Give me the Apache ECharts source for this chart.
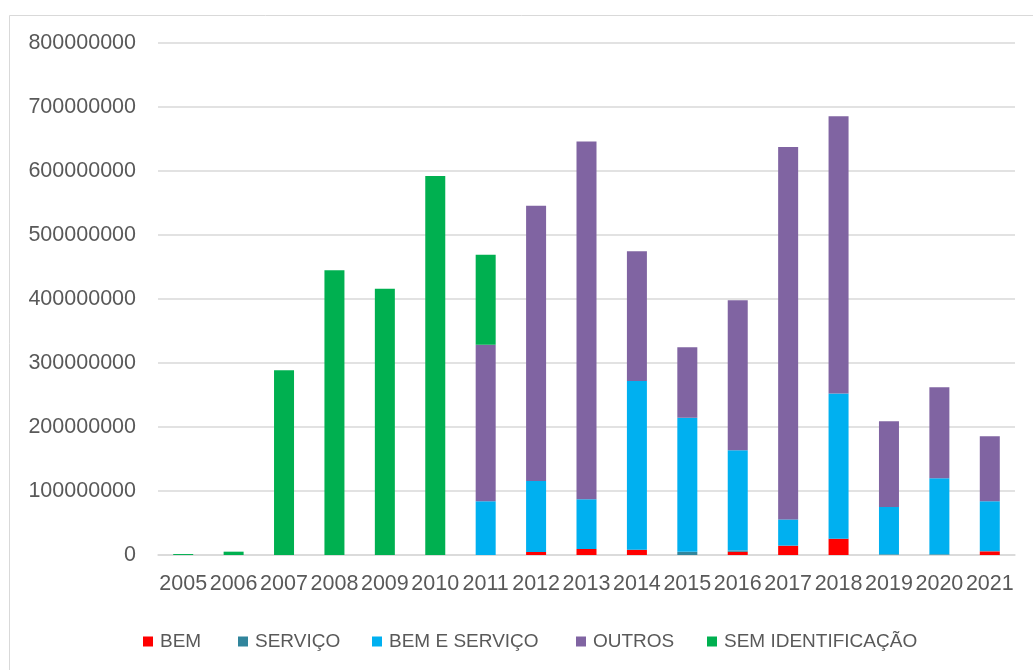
<!DOCTYPE html>
<html>
<head>
<meta charset="utf-8">
<script src="https://cdn.jsdelivr.net/npm/echarts@6/dist/echarts.min.js"></script>
<style>
html,body{margin:0;padding:0;background:#fff;}
#c{width:1033px;height:670px;}
</style>
</head>
<body>
<div id="c"></div>
<script>
const categories = ['2005','2006','2007','2008','2009','2010','2011','2012','2013','2014','2015','2016','2017','2018','2019','2020','2021'];
const bem = [0,0,0,0,0,0,0,4700000,9400000,8300000,0,5000000,14600000,25500000,0,0,5700000];
const servico = [0,0,0,0,0,0,0,0,0,0,5000000,2000000,0,0,1000000,1000000,0];
const bemEServico = [0,0,0,0,0,0,84000000,111000000,77600000,263700000,209600000,156500000,41000000,227000000,74000000,119000000,78300000];
const outros = [0,0,0,0,0,0,244600000,430000000,559000000,202500000,110000000,234500000,581800000,433000000,134000000,142000000,101500000];
const semIdentificacao = [1500000,5200000,288600000,444800000,416000000,592000000,140400000,0,0,0,0,0,0,0,0,0,0];
const yTicks = {min:0, max:800000000, interval:100000000};

const names = ['BEM','SERVIÇO','BEM E SERVIÇO','OUTROS','SEM IDENTIFICAÇÃO'];
const colors = ['#FF0000','#31859C','#00B0F0','#8064A2','#00B050'];
const dataSets = [bem, servico, bemEServico, outros, semIdentificacao];
const legendLeft = [138, 233, 367, 571, 702];

const font = '"Liberation Sans", Arial, sans-serif';
const chart = echarts.init(document.getElementById('c'), null, {renderer:'canvas'});
chart.setOption({
  animation:false,
  backgroundColor:'#fff',
  graphic:[{type:'rect', shape:{x:9.5,y:15.5,width:1030,height:660}, style:{fill:'none', stroke:'#d9d9d9', lineWidth:1}, silent:true}],
  grid:{left:158, right:18, top:43, bottom:115},
  legend: names.map((n,i)=>({
    data:[n], left:legendLeft[i], top:627, itemWidth:10, itemHeight:10, icon:'rect',
    textStyle:{fontFamily:font, fontSize:19, color:'#595959', padding:[0,0,0,2]}, selectedMode:false
  })),
  xAxis:{
    type:'category', data:categories,
    axisLine:{lineStyle:{color:'#d9d9d9', width:1.5}},
    axisTick:{show:false},
    axisLabel:{interval:0, margin:18, color:'#595959', fontFamily:font, fontSize:21.5}
  },
  yAxis:{
    type:'value', min:yTicks.min, max:yTicks.max, interval:yTicks.interval,
    axisLine:{show:false}, axisTick:{show:false},
    splitLine:{lineStyle:{color:'#d9d9d9', width:1.5}},
    axisLabel:{margin:22, color:'#595959', fontFamily:font, fontSize:21.5, formatter:v=>String(v)}
  },
  series: names.map((n,i)=>({
    name:n, type:'bar', stack:'total', data:dataSets[i], barWidth:20,
    itemStyle:{color:colors[i]}
  }))
});
</script>
</body>
</html>
